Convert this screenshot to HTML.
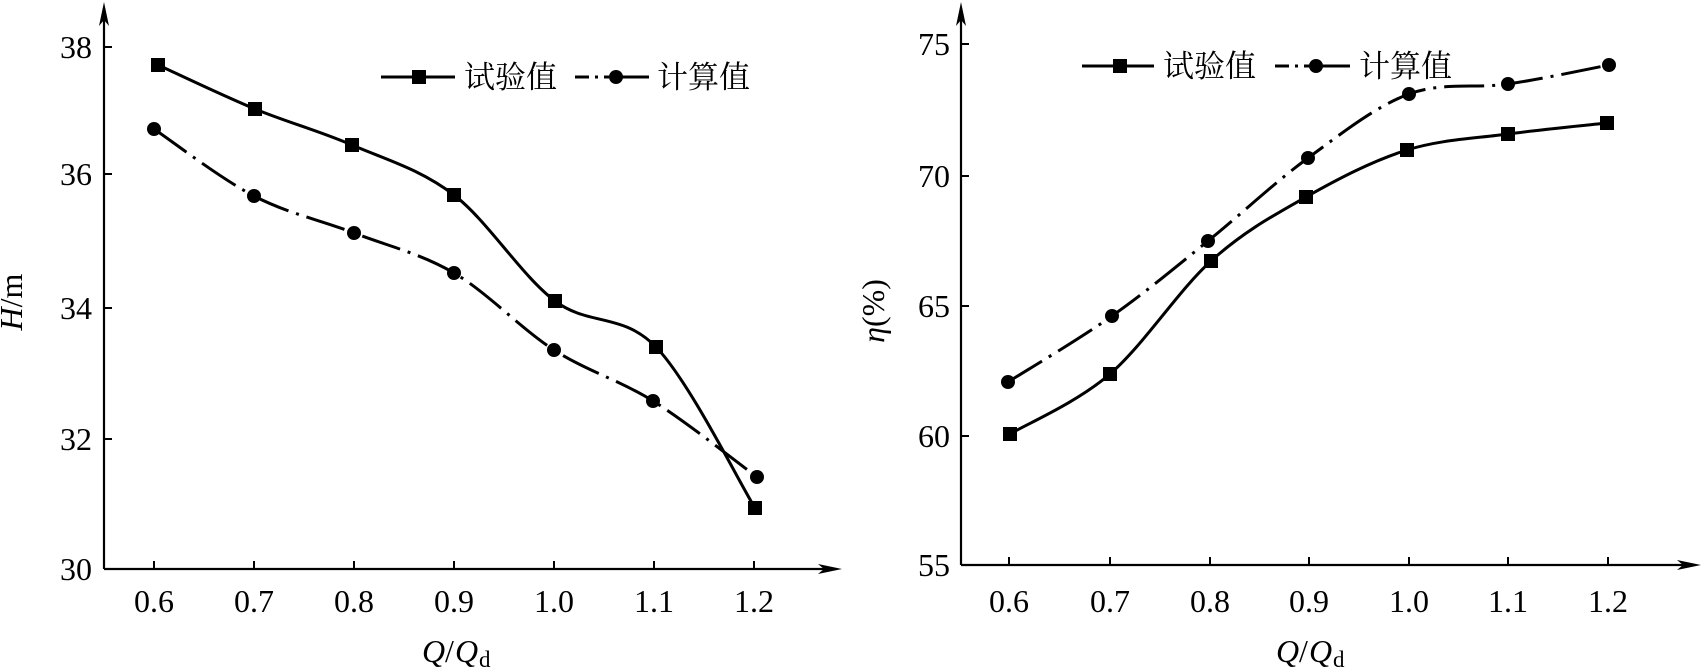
<!DOCTYPE html>
<html><head><meta charset="utf-8"><style>
html,body{margin:0;padding:0;background:#fff;}
svg{display:block;}
text{font-family:"Liberation Serif","Noto Serif CJK SC",serif;fill:#000;}
.cn{font-family:"Liberation Serif","Noto Serif CJK SC",serif;}
</style></head><body>
<svg id="s" width="1701" height="668" viewBox="0 0 1701 668" xmlns="http://www.w3.org/2000/svg">
<g stroke="#000" stroke-width="2.2" fill="none">
<line x1="104" y1="569" x2="836" y2="569"/>
<line x1="104" y1="569" x2="104" y2="8"/>
<line x1="961" y1="565" x2="1695" y2="565"/>
<line x1="961" y1="565" x2="961" y2="8"/>
</g>
<g fill="#000">
<polygon points="842,569 818,564 824,569 818,574"/>
<polygon points="104,2 99,26 104,20 109,26"/>
<polygon points="1701,565 1677,560 1683,565 1677,570"/>
<polygon points="961,2 956,26 961,20 966,26"/>
</g>
<g id="ticks" stroke="#000" stroke-width="2"></g>
<g id="series"></g>
<g font-size="32" text-anchor="end">
<text x="92" y="58">38</text><text x="92" y="185">36</text><text x="92" y="319">34</text><text x="92" y="450">32</text><text x="92" y="580">30</text>
<text x="950" y="55">75</text><text x="950" y="187">70</text><text x="950" y="317">65</text><text x="950" y="447">60</text><text x="950" y="576">55</text>
</g>
<g font-size="32" text-anchor="middle">
<text x="154" y="612">0.6</text><text x="254" y="612">0.7</text><text x="354" y="612">0.8</text><text x="454" y="612">0.9</text><text x="554" y="612">1.0</text><text x="654" y="612">1.1</text><text x="754" y="612">1.2</text>
<text x="1009" y="612">0.6</text><text x="1110" y="612">0.7</text><text x="1210" y="612">0.8</text><text x="1309" y="612">0.9</text><text x="1409" y="612">1.0</text><text x="1508" y="612">1.1</text><text x="1608" y="612">1.2</text>
</g>
<text x="422" y="662" font-size="32" font-style="italic">Q</text><text x="445" y="662" font-size="32">/</text><text x="455" y="662" font-size="32" font-style="italic">Q</text><text x="479" y="667" font-size="23">d</text>
<text x="1276" y="662" font-size="32" font-style="italic">Q</text><text x="1299" y="662" font-size="32">/</text><text x="1309" y="662" font-size="32" font-style="italic">Q</text><text x="1333" y="667" font-size="23">d</text>
<text transform="translate(22,302) rotate(-90)" font-size="32" text-anchor="middle"><tspan font-style="italic">H</tspan>/m</text>
<text transform="translate(884,311) rotate(-90)" font-size="32" text-anchor="middle"><tspan font-style="italic">η</tspan>(%)</text>
<g stroke="#000" stroke-width="3" fill="none">
<line x1="381" y1="77" x2="455" y2="77"/>
<line x1="575" y1="77" x2="609" y2="77" stroke-dasharray="14 6 3 6"/>
<line x1="616" y1="77" x2="649" y2="77"/>
<line x1="1082" y1="66" x2="1154" y2="66"/>
<line x1="1275" y1="66" x2="1310" y2="66" stroke-dasharray="14 6 3 6"/>
<line x1="1316" y1="66" x2="1350" y2="66"/>
</g>
<g fill="#000">
<rect x="412" y="70" width="14" height="14"/><circle cx="616" cy="77" r="7"/>
<rect x="1113" y="59" width="14" height="14"/><circle cx="1316" cy="66" r="7"/>
</g>
<g font-size="31" class="cn">
<text x="464" y="88">试验值</text><text x="657" y="88">计算值</text>
<text x="1163" y="77">试验值</text><text x="1359" y="77">计算值</text>
</g>
</svg>
<script>
var NS="http://www.w3.org/2000/svg";
function el(p,n,a){var e=document.createElementNS(NS,n);for(var k in a)e.setAttribute(k,a[k]);p.appendChild(e);return e;}
var t=document.getElementById('ticks');
[154,254,354,454,554,654,754].forEach(function(x){el(t,'line',{x1:x,y1:569,x2:x,y2:561});});
[47,174,308,439].forEach(function(y){el(t,'line',{x1:104,y1:y,x2:112,y2:y});});
[1009,1110,1210,1309,1409,1508,1608].forEach(function(x){el(t,'line',{x1:x,y1:565,x2:x,y2:557});});
[44,176,306,436].forEach(function(y){el(t,'line',{x1:961,y1:y,x2:969,y2:y});});
function cr(p){var d="M"+p[0][0]+","+p[0][1];for(var i=0;i<p.length-1;i++){var p0=p[i-1]||p[i],p1=p[i],p2=p[i+1],p3=p[i+2]||p2;
var c1=[p1[0]+(p2[0]-p0[0])/6,p1[1]+(p2[1]-p0[1])/6],c2=[p2[0]-(p3[0]-p1[0])/6,p2[1]-(p3[1]-p1[1])/6];
d+=" C"+c1+" "+c2+" "+p2;}return d;}
var g=document.getElementById('series');
var S=[
 {p:[[158,65],[255,109],[352,145],[454,195],[555,301],[656,347],[755,508]],sq:1},
 {p:[[154,129],[254,196],[354,233],[454,273],[554,350],[653,401],[757,477]],sq:0},
 {p:[[1010,434],[1110,374],[1211,261],[1306,197],[1407,150],[1508,134],[1607,123]],sq:1},
 {p:[[1008,382],[1112,316],[1208,241],[1308,158],[1409,94],[1508,84],[1609,65]],sq:0}];
S.forEach(function(s){
 var a={d:cr(s.p),fill:'none',stroke:'#000','stroke-width':3};
 if(!s.sq)a['stroke-dasharray']='40 8 3 8';
 el(g,'path',a);
 s.p.forEach(function(q){ if(s.sq)el(g,'rect',{x:q[0]-7,y:q[1]-7,width:14,height:14,fill:'#000'}); else el(g,'circle',{cx:q[0],cy:q[1],r:7,fill:'#000'});});
});
</script>
</body></html>
